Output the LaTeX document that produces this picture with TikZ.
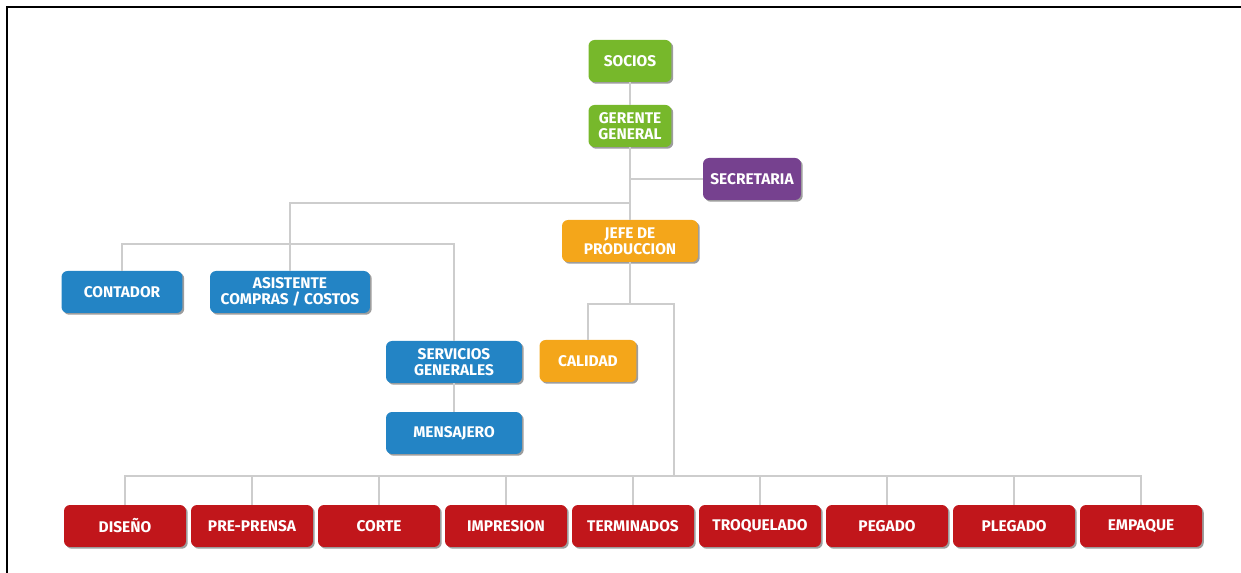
\documentclass[tikz,border=0pt]{standalone}
\usepackage{fontspec}
\setmainfont{Fira Sans}
\usetikzlibrary{shadows}
\definecolor{verde}{HTML}{77B82B}
\definecolor{morado}{HTML}{76418F}
\definecolor{naranja}{HTML}{F4A61A}
\definecolor{azul}{HTML}{2384C5}
\definecolor{rojo}{HTML}{C1161B}
\definecolor{linea}{HTML}{CDCDCD}
\tikzset{
	caja/.style={rounded corners=0.12cm, inner sep=0pt, align=center, text=white,
		font=\fontsize{8.8}{9}\selectfont\bfseries, minimum height=0.84cm,
		drop shadow={shadow xshift=0.035cm, shadow yshift=-0.035cm, opacity=0.55, fill=black!70}},
	conector/.style={draw=linea, line width=0.85pt},
}

\begin{document}
\begin{tikzpicture}[x=0.02cm, y=-0.02cm]
			%%%%% START %%%%%
			
			\useasboundingbox (0, 0) rectangle (1241, 573);
			\draw[line width=1.1pt] (7, 573) -- (7, 7) -- (1241, 7);
			
			% direccion
			\node[caja, fill=verde, minimum width=1.66cm] (soc) at (630, 61) {SOCIOS};
			\node[caja, fill=verde, minimum width=1.66cm] (ger) at (630, 126) {GERENTE\\GENERAL};
			\node[caja, fill=morado, minimum width=1.96cm] (sec) at (752, 179) {SECRETARIA};
			\node[caja, fill=naranja, minimum width=2.72cm] (jefe) at (630, 241) {JEFE DE\\PRODUCCION};
			
			% administracion
			\node[caja, fill=azul, minimum width=2.42cm] (cont) at (122, 292) {CONTADOR};
			\node[caja, fill=azul, minimum width=3.2cm] (asis) at (290, 292) {ASISTENTE\\COMPRAS / COSTOS};
			\node[caja, fill=azul, minimum width=2.72cm] (serv) at (454, 362) {SERVICIOS\\GENERALES};
			\node[caja, fill=azul, minimum width=2.72cm] (mens) at (454, 433) {MENSAJERO};
			\node[caja, fill=naranja, minimum width=1.94cm] (cal) at (588, 361) {CALIDAD};
			
			% produccion
			\foreach \n/\t [count=\i from 0] in {dis/DISEÑO, pre/PRE-PRENSA, cor/CORTE, imp/IMPRESION, ter/TERMINADOS, tro/TROQUELADO, peg/PEGADO, ple/PLEGADO, emp/EMPAQUE}
				\node[caja, fill=rojo, minimum width=2.44cm] (\n) at (125+127*\i, 526) {\t};
			
			% puntos de union
			\coordinate (b1) at (630, 203);
			\coordinate (b2) at (290, 244);
			\coordinate (b3) at (630, 304);
			\coordinate (b4) at (674, 476);
			
			\draw[conector] (soc) -- (ger);
			\draw[conector] (ger) -- (jefe);
			\draw[conector] (sec.west) -| (ger.south);
			\draw[conector] (asis.north) |- (b1);
			\draw[conector] (cont.north) |- (b2) -| (serv.north);
			\draw[conector] (serv) -- (mens);
			\draw[conector] (jefe.south) -- (b3);
			\draw[conector] (cal.north) |- (b3) -| (b4);
			\draw[conector] (dis.north) |- (b4) -| (emp.north);
			\foreach \n in {pre, cor, imp, ter, tro, peg, ple}
				\draw[conector] (\n.north) -- (\n.north |- b4);
			
			%%%%% END %%%%%
\end{tikzpicture}
\end{document}
